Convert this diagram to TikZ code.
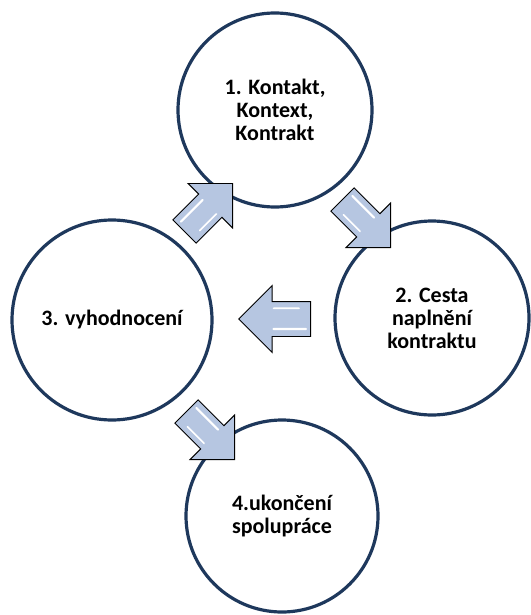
\documentclass[tikz,border=0pt]{standalone}
\usepackage{fontspec}
\setmainfont{Carlito}
\usetikzlibrary{shapes.arrows,calc}

\tikzset{every picture/.style={line width=0.75pt}}
\tikzset{
  phase/.style={circle, draw={rgb, 255:red, 30; green, 56; blue, 92}, line width=3.2, fill=white,
    inner sep=0, align=center, font=\fontsize{22}{23}\selectfont\bfseries},
  blockarrow/.style={single arrow, draw=black, line width=0.9, single arrow head extend=16,
    inner xsep=0, inner ysep=17, minimum height=70, anchor=tip,
    fill={rgb, 255:red, 182; green, 198; blue, 225}},
  smallarrow/.style={blockarrow, inner ysep=16, single arrow head extend=15, minimum height=68},
  glint/.style={white, line width=2.2, line cap=round, shorten <=5, shorten >=1}
}

\begin{document}
\begin{tikzpicture}[x=1pt,y=1pt,yscale=-1,xscale=1]
\useasboundingbox (0,0) rectangle (530,615); %set diagram at 530 x 615

%Shape: Circle 1
\node [phase, minimum size=194] (kontakt) at (275,110) {1. Kontakt,\\Kontext,\\Kontrakt};
%Shape: Circle 2
\node [phase, minimum size=194] (cesta) at (432,318) {2. Cesta\\naplnění\\kontraktu};
%Shape: Circle 3
\node [phase, minimum size=200] (vyhodnoceni) at (112,320) {3. vyhodnocení};
%Shape: Circle 4
\node [phase, minimum size=192] (ukonceni) at (282,516) {4.ukončení\\spolupráce};

%Shape: Right Arrow 3 -> 1
\node [smallarrow, rotate=45] (arrA) at (233,183) {};
%Shape: Right Arrow 1 -> 2
\node [smallarrow, rotate=-45] (arrB) at (391,248) {};
%Shape: Right Arrow 2 -> 3
\node [blockarrow, rotate=180, minimum height=72] (arrC) at (238,319) {};
%Shape: Right Arrow 3 -> 4
\node [smallarrow, rotate=-45] (arrD) at (235,460) {};

%Highlights
\foreach \a in {arrA,arrB,arrC,arrD}{
  \draw [glint] ($(\a.after tail)!0.22!(\a.before tail)$) -- ($(\a.before head)!0.22!(\a.after head)$);
  \draw [glint, shorten <=12, line width=1.6] ($(\a.before tail)!0.2!(\a.after tail)$) -- ($(\a.after head)!0.2!(\a.before head)$);
}

\end{tikzpicture}
\end{document}
